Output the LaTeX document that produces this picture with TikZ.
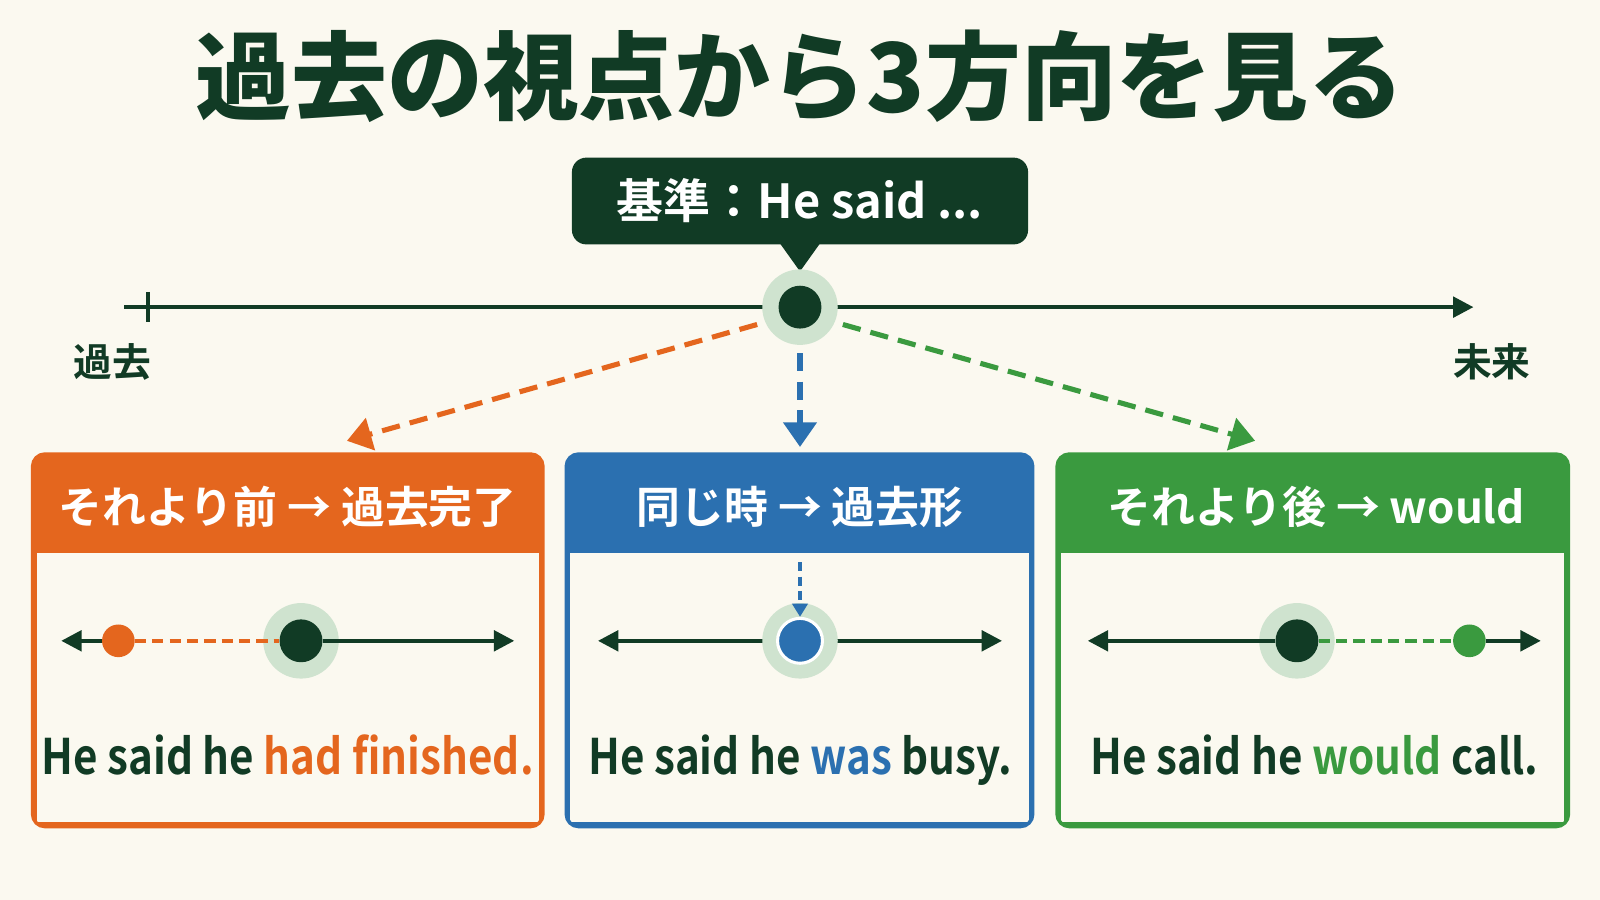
\documentclass[tikz,border=0pt]{standalone}
\usepackage{fontspec}
\setmainfont{Noto Sans CJK JP Bold}
\newfontfamily\heavy{Noto Sans CJK JP Black}
\usetikzlibrary{arrows.meta,positioning}
\definecolor{bg}{HTML}{FBF9F0}
\definecolor{ink}{HTML}{113B25}
\definecolor{past}{HTML}{E4661E}
\definecolor{same}{HTML}{2B70B0}
\definecolor{later}{HTML}{3A9A3F}
\definecolor{halo}{HTML}{CFE3CF}
\tikzset{
  dot/.style={circle, fill=#1, minimum size=42pt, inner sep=0pt},
  ring/.style={circle, fill=halo, minimum size=74pt, inner sep=0pt},
  small/.style={circle, fill=#1, minimum size=32pt, inner sep=0pt},
  dash/.style={#1, line width=5pt, dash pattern=on 18pt off 10pt, -{Triangle[length=24pt,width=32pt]}},
  line/.style={ink, line width=4pt},
  tip/.style={-{Triangle[length=20pt,width=20pt]}},
  head/.style={text=white, font=\fontsize{43}{43}\selectfont},
  say/.style={font=\fontsize{48}{48}\selectfont, text=ink, xscale=0.86, anchor=base},
}
\newcommand{\panel}[3]{% x0, x1, colour
  \fill[#3, rounded corners=12pt] (#1,445) rectangle (#2,810);
  \fill[bg] (#1+4,542) rectangle (#2-4,806);
  \draw[#3, line width=3.5pt, rounded corners=12pt] (#1,445) rectangle (#2,810);
}
\begin{document}
\begin{tikzpicture}[x=1pt, y=-1pt]
\fill[bg] (0,0) rectangle (1568,882);
\useasboundingbox (0,0) rectangle (1568,882);

% title
\node[text=ink, font=\heavy\fontsize{94}{94}\selectfont] (title) at (784,75) {過去の視点から3方向を見る};

% reference callout
\node[fill=ink, text=white, rounded corners=14pt, minimum width=447pt, minimum height=85pt,
  font=\fontsize{46}{46}\selectfont] (base) at (784,197) {基準：He said ...};
\fill[ink] (764,238) -- (804,238) -- (784,266) -- cycle;

% main timeline
\coordinate (start) at (122,301);
\coordinate (end) at (1444,301);
\draw[line, tip] (start) -- (end);
\draw[line] (145,286) -- (145,316);
\node[font=\fontsize{38}{38}\selectfont, text=ink] (pastlbl) at (110,355) {過去};
\node[font=\fontsize{38}{38}\selectfont, text=ink] (futlbl) at (1462,355) {未来};
\node[ring] (nowhalo) at (784,301) {};
\node[dot=ink] (now) at (784,301) {};

% three directions
\coordinate (toPast) at (340,432);
\coordinate (toSame) at (784,438);
\coordinate (toLater) at (1230,432);
\draw[dash=past] (742,318) -- (toPast);
\draw[dash=same] (784,346) -- (toSame);
\draw[dash=later] (826,318) -- (toLater);

% panels
\panel{32}{532}{past}
\panel{555}{1012}{same}
\panel{1036}{1537}{later}
\node[head] (hpast) at (282,497) {それより前 → 過去完了};
\node[head] (hsame) at (784,497) {同じ時 → 過去形};
\node[head] (hlater) at (1290,497) {それより後 → would};

% before
\node[ring] (ahalo) at (295,628) {};
\node[dot=ink] (a) at (295,628) {};
\node[small=past] (aold) at (116,628) {};
\coordinate (aL) at (60,628);
\coordinate (aR) at (504,628);
\draw[line, tip] (aold) -- (aL);
\draw[past, line width=3.5pt, dash pattern=on 11pt off 6pt] (aold) -- (a);
\draw[line, tip] (a) -- (aR);

% same time
\coordinate (bL) at (586,628);
\coordinate (bR) at (982,628);
\draw[line, {Triangle[length=20pt,width=20pt]}-{Triangle[length=20pt,width=20pt]}] (bL) -- (bR);
\node[ring] (bhalo) at (784,628) {};
\node[circle, fill=same, draw=white, line width=3pt, minimum size=44pt] (b) at (784,628) {};
\draw[same, line width=3.5pt, dash pattern=on 9pt off 5pt, -{Triangle[length=13pt,width=15pt]}] (784,551) -- (b);

% after
\node[ring] (chalo) at (1271,628) {};
\node[dot=ink] (c) at (1271,628) {};
\node[small=later] (cnew) at (1440,628) {};
\coordinate (cL) at (1066,628);
\coordinate (cR) at (1510,628);
\draw[line, tip] (c) -- (cL);
\draw[later, line width=3.5pt, dash pattern=on 11pt off 6pt] (c) -- (cnew);
\draw[line, tip] (cnew) -- (cR);

% sentences
\node[say] (spast) at (282,759) {He said he \textcolor{past}{had finished.}};
\node[say] (ssame) at (784,759) {He said he \textcolor{same}{was} busy.};
\node[say] (slater) at (1288,759) {He said he \textcolor{later}{would} call.};
\end{tikzpicture}
\end{document}
